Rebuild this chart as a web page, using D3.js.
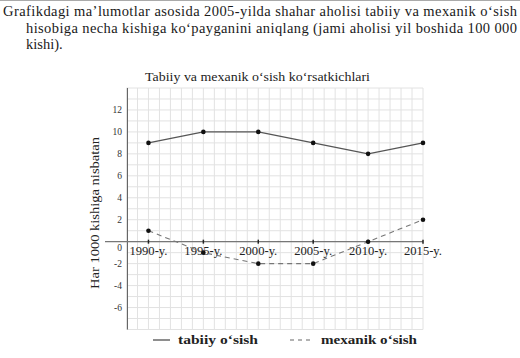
<!DOCTYPE html>
<html><head><meta charset="utf-8">
<script src="https://cdn.jsdelivr.net/npm/d3@7"></script>
<style>body{margin:0;background:#fff}svg{display:block}
text{font-family:"Liberation Serif","Times New Roman","DejaVu Serif",serif}</style>
</head><body>
<script>
const years = [1990, 1995, 2000, 2005, 2010, 2015];
const tabiiy = [9, 10, 10, 9, 8, 9];
const mexanik = [1, -1, -2, -2, 0, 2];
const yTicks = [-6, -4, -2, 0, 2, 4, 6, 8, 10, 12];
const xLabels = ["1990-y.", "1995-y.", "2000-y.", "2005-y.", "2010-y.", "2015-y."];
const headerLines = [
  "Grafikdagi ma\u2019lumotlar asosida 2005-yilda shahar aholisi tabiiy va mexanik o\u2018sish",
  "hisobiga necha kishiga ko\u2018payganini aniqlang (jami aholisi yil boshida 100 000",
  "kishi)."
];
const title = "Tabiiy va mexanik o\u2018sish ko\u2018rsatkichlari";
const yTitle = "Har 1000 kishiga nisbatan";
const legendNames = ["tabiiy o\u2018sish", "mexanik o\u2018sish"];

const W = 520, H = 358;
const svg = d3.select("body").append("svg").attr("width", W).attr("height", H);

svg.append("line").attr("x1",0).attr("x2",W).attr("y1",0.5).attr("y2",0.5).attr("stroke","#aaa");

// header
const hx = [3, 26, 26], hy = [16, 33, 49], hl = [514, 491, null];
headerLines.forEach((t, i) => {
  const tx = svg.append("text").attr("x", hx[i]).attr("y", hy[i])
    .style("font-size", "14.5px").attr("fill", "#1a1a1a").text(t);
  if (hl[i]) tx.attr("textLength", hl[i]).attr("lengthAdjust", "spacing");
});

const x = d3.scaleLinear().domain([1988, 2015]).range([126.5, 423]);
const y = d3.scaleLinear().domain([-8, 14]).range([329.5, 88]);

// grid
const g = svg.append("g");
g.selectAll(".vg").data(d3.range(1988, 2016)).join("line")
  .attr("x1", d => x(d)).attr("x2", d => x(d)).attr("y1", y(14)).attr("y2", y(-8))
  .attr("stroke", "#e2e2e2").attr("stroke-width", 1);
g.selectAll(".hg").data(d3.range(-8, 15)).join("line")
  .attr("x1", x(1988)).attr("x2", x(2015)).attr("y1", d => y(d)).attr("y2", d => y(d))
  .attr("stroke", "#e2e2e2").attr("stroke-width", 1);

// axes
svg.append("line").attr("x1", 127.5).attr("x2", 127.5).attr("y1", y(14)).attr("y2", y(-8))
  .attr("stroke", "#666").attr("stroke-width", 1);
svg.append("line").attr("x1", 105).attr("x2", x(2015)).attr("y1", y(0)).attr("y2", y(0))
  .attr("stroke", "#777").attr("stroke-width", 1.2);

svg.selectAll(".xt").data(years).join("line")
  .attr("x1", d => x(d)).attr("x2", d => x(d)).attr("y1", y(0) - 2).attr("y2", y(0) + 2)
  .attr("stroke", "#222").attr("stroke-width", 1.5);

svg.selectAll(".xl").data(years).join("text")
  .attr("x", d => x(d)).attr("y", y(0) + 13.5).attr("text-anchor", "middle")
  .style("font-size", "12px").attr("fill", "#222")
  .attr("textLength", 38).attr("lengthAdjust", "spacingAndGlyphs")
  .text((d, i) => xLabels[i]);

svg.selectAll(".yl").data(yTicks).join("text")
  .attr("x", 122).attr("y", d => y(d) + (d === 0 ? 9.5 : 3.5)).attr("text-anchor", "end")
  .style("font-size", "9.5px").attr("fill", "#333")
  .text(d => d);

svg.append("text").attr("transform", `translate(99,213) rotate(-90)`)
  .attr("text-anchor", "middle").style("font-size", "13px")
  .attr("textLength", 152).attr("lengthAdjust", "spacingAndGlyphs")
  .attr("fill", "#222").text(yTitle);

svg.append("text").attr("x", 257.5).attr("y", 81).attr("text-anchor", "middle")
  .style("font-size", "13px").attr("textLength", 225).attr("lengthAdjust", "spacingAndGlyphs")
  .attr("fill", "#222").text(title);

// lines
const line = d3.line().x((d, i) => x(years[i])).y(d => y(d));
svg.append("path").datum(tabiiy).attr("d", line).attr("fill", "none")
  .attr("stroke", "#555").attr("stroke-width", 1.1);
svg.append("path").datum(mexanik).attr("d", line).attr("fill", "none")
  .attr("stroke", "#777").attr("stroke-width", 1.1).attr("stroke-dasharray", "5,4");

[tabiiy, mexanik].forEach(s => {
  svg.append("g").selectAll("circle").data(s).join("circle")
    .attr("cx", (d, i) => x(years[i])).attr("cy", d => y(d)).attr("r", 2.3).attr("fill", "#111");
});

// legend
const ly = 340;
svg.append("line").attr("x1", 153).attr("x2", 170).attr("y1", ly).attr("y2", ly)
  .attr("stroke", "#444").attr("stroke-width", 1.2);
svg.append("text").attr("x", 178).attr("y", 343.5)
  .style("font-size", "13.5px").attr("font-weight", "bold").attr("fill", "#222")
  .attr("textLength", 80).attr("lengthAdjust", "spacingAndGlyphs").text(legendNames[0]);
svg.append("line").attr("x1", 290).attr("x2", 314).attr("y1", ly).attr("y2", ly)
  .attr("stroke", "#666").attr("stroke-width", 1.2).attr("stroke-dasharray", "4,4");
svg.append("text").attr("x", 321).attr("y", 343.5)
  .style("font-size", "13.5px").attr("font-weight", "bold").attr("fill", "#222")
  .attr("textLength", 96).attr("lengthAdjust", "spacingAndGlyphs").text(legendNames[1]);
</script>
</body></html>
